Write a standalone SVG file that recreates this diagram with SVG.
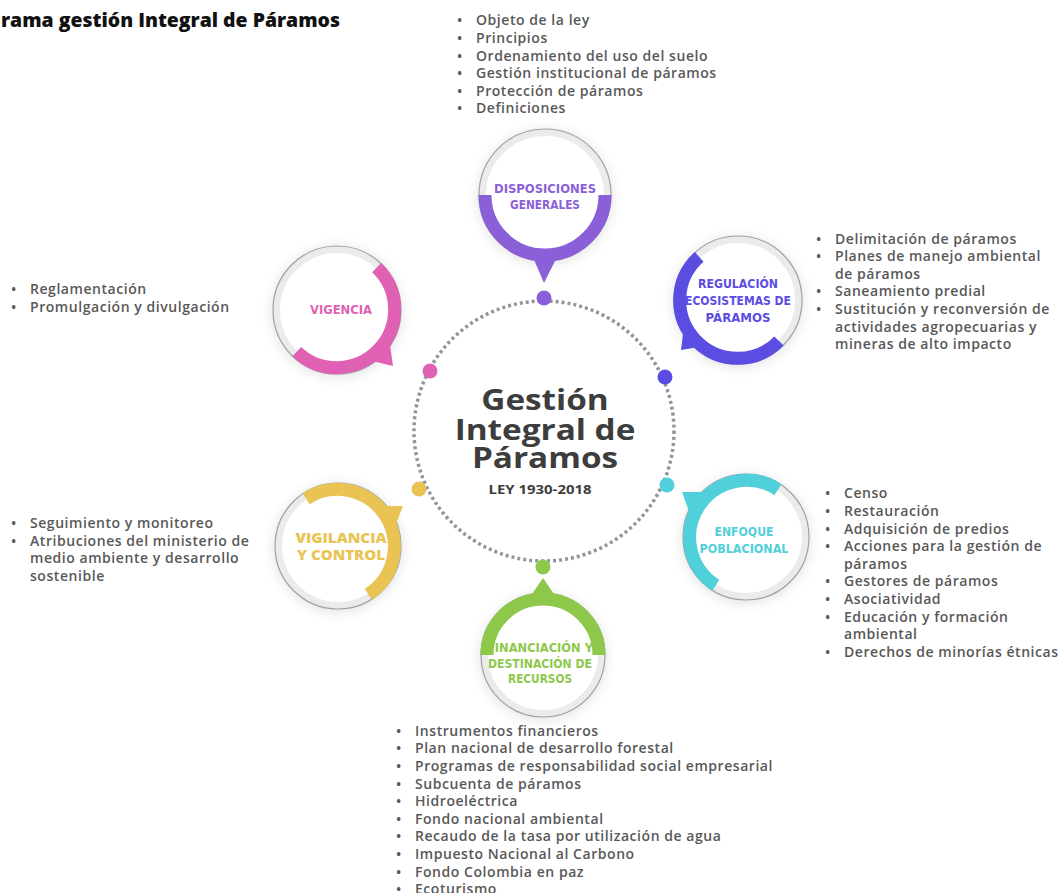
<svg xmlns="http://www.w3.org/2000/svg" width="1062" height="893" viewBox="0 0 1062 893">
<defs>
<filter id="sh" x="-40%" y="-40%" width="180%" height="180%"><feGaussianBlur stdDeviation="7"/></filter>
<style>
.list{font-family:"Open Sans","Liberation Sans",sans-serif;font-weight:600;font-size:14px;letter-spacing:0.55px;fill:#585858}
.lbl{font-family:"DejaVu Sans","Liberation Sans",sans-serif;font-weight:700;font-size:12.5px;text-anchor:middle}
.track{fill:#fff;stroke:#ebebeb;stroke-width:7}
.outline{fill:none;stroke:#9aa3a7;stroke-width:1.2}
.shadow{fill:#000;opacity:.13;filter:url(#sh)}
.arc{fill:none;stroke-width:13}
</style>
</defs>
<rect width="1062" height="893" fill="#fff"/>
<text x="1" y="27" font-family="Open Sans,Liberation Sans,sans-serif" font-weight="800" font-size="18.5" fill="#111" textLength="339" lengthAdjust="spacingAndGlyphs">rama gestión Integral de Páramos</text>

<g id="connectors">
<circle cx="544" cy="431" r="130" fill="none" stroke="#8f969c" stroke-width="3.5" stroke-dasharray="3 3"/>
<circle cx="544" cy="298" r="7.5" fill="#8b5fd8"/>
<circle cx="665" cy="377" r="7.5" fill="#5b4de2"/>
<circle cx="667" cy="485" r="7.5" fill="#4fd0da"/>
<circle cx="543" cy="567" r="7.5" fill="#8dc84a"/>
<circle cx="419" cy="489" r="7.5" fill="#e9c455"/>
<circle cx="430" cy="371" r="7.5" fill="#e060b4"/>
</g>

<g id="center">
<text transform="translate(545 0) scale(1.19 1)" font-family="Open Sans,Liberation Sans,sans-serif" font-weight="700" font-size="28" fill="#3d3d3d" text-anchor="middle"><tspan x="0" y="410">Gestión</tspan><tspan x="0" y="440">Integral de</tspan><tspan x="0" y="468">Páramos</tspan></text>
<text x="540" y="494" font-family="Open Sans,Liberation Sans,sans-serif" font-weight="700" font-size="13" fill="#3d3d3d" text-anchor="middle" textLength="103" lengthAdjust="spacingAndGlyphs">LEY 1930-2018</text>
</g>

<g id="disposiciones">
<circle class="shadow" cx="545" cy="197" r="66"/>
<circle class="track" cx="545" cy="195" r="62.5"/>
<circle class="outline" cx="545" cy="195" r="66"/>
<path class="arc" stroke="#8b5fd8" d="M485,195 A60 60 0 0 0 605,195"/>
<polygon fill="#8b5fd8" points="532,255 558,255 544,283"/>
<text class="lbl" fill="#8b5fd8" x="545" y="193" textLength="102" lengthAdjust="spacingAndGlyphs">DISPOSICIONES</text>
<text class="lbl" fill="#8b5fd8" x="545" y="209" textLength="70" lengthAdjust="spacingAndGlyphs">GENERALES</text>
<g class="list">
<text x="457" y="25">•</text><text x="476" y="25">Objeto de la ley</text>
<text x="457" y="43">•</text><text x="476" y="43">Principios</text>
<text x="457" y="61">•</text><text x="476" y="61">Ordenamiento del uso del suelo</text>
<text x="457" y="78">•</text><text x="476" y="78">Gestión institucional de páramos</text>
<text x="457" y="96">•</text><text x="476" y="96">Protección de páramos</text>
<text x="457" y="113">•</text><text x="476" y="113">Definiciones</text>
</g>
</g>

<g id="regulacion">
<circle class="shadow" cx="738" cy="302" r="64"/>
<circle class="track" cx="738" cy="300" r="60.5"/>
<circle class="outline" cx="738" cy="300" r="64"/>
<path class="arc" stroke="#5b4de2" d="M699.2,256.9 A58 58 0 1 0 779,341"/>
<polygon fill="#5b4de2" points="705,346 684,326 681,350"/>
<text class="lbl" fill="#5b4de2" x="738" y="288" textLength="80" lengthAdjust="spacingAndGlyphs">REGULACIÓN</text>
<text class="lbl" fill="#5b4de2" x="738" y="305" textLength="106" lengthAdjust="spacingAndGlyphs">ECOSISTEMAS DE</text>
<text class="lbl" fill="#5b4de2" x="738" y="322" textLength="65" lengthAdjust="spacingAndGlyphs">PÁRAMOS</text>
<g class="list">
<text x="816" y="244">•</text><text x="835" y="244">Delimitación de páramos</text>
<text x="816" y="261">•</text><text x="835" y="261">Planes de manejo ambiental</text>
<text x="835" y="279">de páramos</text>
<text x="816" y="296">•</text><text x="835" y="296">Saneamiento predial</text>
<text x="816" y="314">•</text><text x="835" y="314">Sustitución y reconversión de</text>
<text x="835" y="332">actividades agropecuarias y</text>
<text x="835" y="349">mineras de alto impacto</text>
</g>
</g>

<g id="vigencia">
<circle class="shadow" cx="337" cy="312" r="64"/>
<circle class="track" cx="337" cy="310" r="60.5"/>
<circle class="outline" cx="337" cy="310" r="64"/>
<path class="arc" stroke="#e060b4" d="M376.6,267.6 A58 58 0 1 1 296.7,351.7"/>
<polygon fill="#e060b4" points="389,338 368,360 393,366"/>
<text class="lbl" fill="#e060b4" x="341" y="314" textLength="62" lengthAdjust="spacingAndGlyphs">VIGENCIA</text>
<g class="list">
<text x="11" y="294">•</text><text x="30" y="294">Reglamentación</text>
<text x="11" y="312">•</text><text x="30" y="312">Promulgación y divulgación</text>
</g>
</g>

<g id="vigilancia">
<circle class="shadow" cx="338" cy="548" r="63"/>
<circle class="track" cx="338" cy="546" r="59.5"/>
<circle class="outline" cx="338" cy="546" r="63"/>
<path class="arc" stroke="#e9c455" d="M306.1,498.7 A57 57 0 1 1 368.2,594.3"/>
<polygon fill="#e9c455" points="381,506 403,506 394,529"/>
<g font-family="Open Sans,Liberation Sans,sans-serif" font-weight="800" font-size="13.5" fill="#e9c455" text-anchor="middle">
<text x="341" y="543" textLength="91" lengthAdjust="spacingAndGlyphs">VIGILANCIA</text>
<text x="341" y="560" textLength="88" lengthAdjust="spacingAndGlyphs">Y CONTROL</text>
</g>
<g class="list">
<text x="11" y="528">•</text><text x="30" y="528">Seguimiento y monitoreo</text>
<text x="11" y="546">•</text><text x="30" y="546">Atribuciones del ministerio de</text>
<text x="30" y="563">medio ambiente y desarrollo</text>
<text x="30" y="581">sostenible</text>
</g>
</g>

<g id="enfoque">
<circle class="shadow" cx="746" cy="539" r="63"/>
<circle class="track" cx="746" cy="537" r="59.5"/>
<circle class="outline" cx="746" cy="537" r="63"/>
<path class="arc" stroke="#4fd0da" d="M777.9,489.7 A57 57 0 1 0 715.8,585.3"/>
<polygon fill="#4fd0da" points="707,492 682,492 691,517"/>
<text class="lbl" fill="#4fd0da" x="744" y="536" textLength="59" lengthAdjust="spacingAndGlyphs">ENFOQUE</text>
<text class="lbl" fill="#4fd0da" x="744" y="553" textLength="89" lengthAdjust="spacingAndGlyphs">POBLACIONAL</text>
<g class="list">
<text x="825" y="498">•</text><text x="844" y="498">Censo</text>
<text x="825" y="516">•</text><text x="844" y="516">Restauración</text>
<text x="825" y="534">•</text><text x="844" y="534">Adquisición de predios</text>
<text x="825" y="551">•</text><text x="844" y="551">Acciones para la gestión de</text>
<text x="844" y="569">páramos</text>
<text x="825" y="586">•</text><text x="844" y="586">Gestores de páramos</text>
<text x="825" y="604">•</text><text x="844" y="604">Asociatividad</text>
<text x="825" y="622">•</text><text x="844" y="622">Educación y formación</text>
<text x="844" y="639">ambiental</text>
<text x="825" y="657">•</text><text x="844" y="657">Derechos de minorías étnicas</text>
</g>
</g>

<g id="financiacion">
<circle class="shadow" cx="543" cy="657" r="62"/>
<circle class="track" cx="543" cy="655" r="58.5"/>
<circle class="outline" cx="543" cy="655" r="62"/>
<path class="arc" stroke="#8dc84a" d="M487,655 A56 56 0 0 1 599,655"/>
<polygon fill="#8dc84a" points="530,597 556,597 543,578"/>
<text class="lbl" fill="#8dc84a" x="540" y="652" textLength="106" lengthAdjust="spacingAndGlyphs">FINANCIACIÓN Y</text>
<text class="lbl" fill="#8dc84a" x="540" y="668" textLength="104" lengthAdjust="spacingAndGlyphs">DESTINACIÓN DE</text>
<text class="lbl" fill="#8dc84a" x="540" y="683" textLength="64" lengthAdjust="spacingAndGlyphs">RECURSOS</text>
<g class="list">
<text x="396" y="736">•</text><text x="415" y="736">Instrumentos financieros</text>
<text x="396" y="753">•</text><text x="415" y="753">Plan nacional de desarrollo forestal</text>
<text x="396" y="771">•</text><text x="415" y="771">Programas de responsabilidad social empresarial</text>
<text x="396" y="789">•</text><text x="415" y="789">Subcuenta de páramos</text>
<text x="396" y="806">•</text><text x="415" y="806">Hidroeléctrica</text>
<text x="396" y="824">•</text><text x="415" y="824">Fondo nacional ambiental</text>
<text x="396" y="841">•</text><text x="415" y="841">Recaudo de la tasa por utilización de agua</text>
<text x="396" y="859">•</text><text x="415" y="859">Impuesto Nacional al Carbono</text>
<text x="396" y="877">•</text><text x="415" y="877">Fondo Colombia en paz</text>
<text x="396" y="894">•</text><text x="415" y="894">Ecoturismo</text>
</g>
</g>
</svg>
